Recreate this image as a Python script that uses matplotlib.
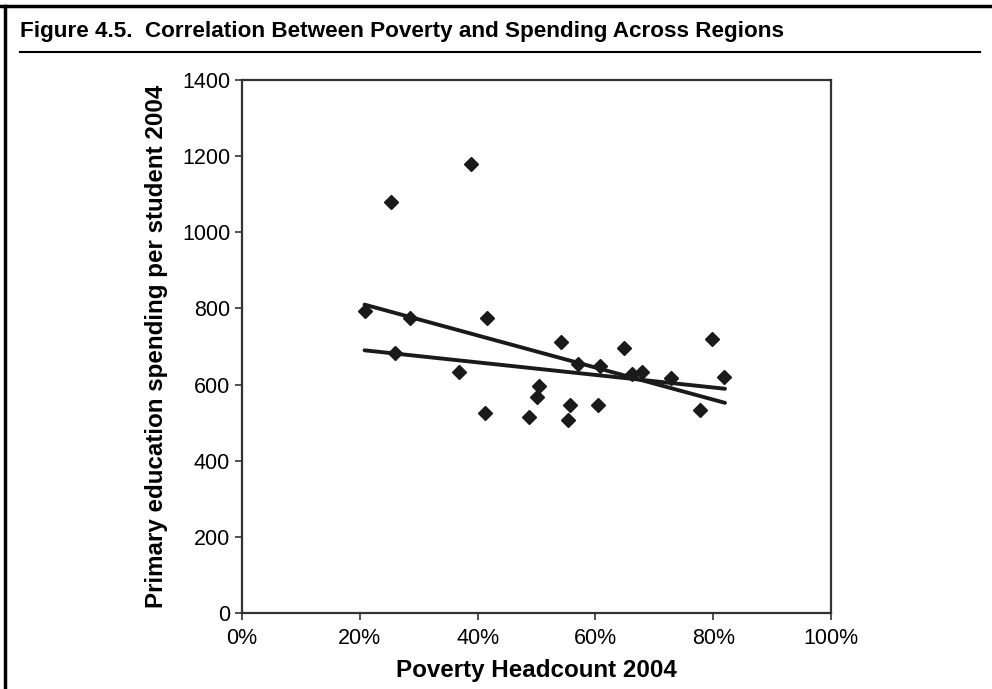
import matplotlib.pyplot as plt
from matplotlib.lines import Line2D
from matplotlib.ticker import PercentFormatter

# poverty headcount (%) and primary spending per student, by region
poverty = [20.8, 25.3, 25.9, 28.6, 36.8, 38.9, 41.2, 41.6, 48.7, 50.1, 50.4, 54.2,
           55.3, 55.6, 57.0, 60.4, 60.7, 64.8, 66.2, 67.9, 72.9, 77.7, 79.8, 81.8]
spending = [794, 1079, 684, 774, 632, 1179, 526, 774, 516, 568, 595, 713,
            506, 547, 653, 547, 648, 695, 629, 632, 617, 532, 721, 621]

# linear trends: all regions, and without the two high-spending outliers
trend_x = [20.8, 82.0]
trend_all = [810, 552]
trend_excl = [690, 589]

plt.rcParams['font.family'] = ['Liberation Sans', 'DejaVu Sans']

fig = plt.figure(figsize=(9.92, 6.89), dpi=100)
ax = fig.add_axes([0.244, 0.1103, 0.5937, 0.7736])

ax.plot(trend_x, trend_all, color='#1a1a1a', lw=2.8, solid_capstyle='round')
ax.plot(trend_x, trend_excl, color='#1a1a1a', lw=2.8, solid_capstyle='round')
ax.plot(poverty, spending, 'D', color='#1a1a1a', ms=7.5, mec='#1a1a1a')

ax.set_xlim(0, 100)
ax.set_ylim(0, 1400)
ax.set_xticks(range(0, 101, 20))
ax.set_yticks(range(0, 1401, 200))
ax.xaxis.set_major_formatter(PercentFormatter(decimals=0))
ax.tick_params(labelsize=15.5, direction='out', length=5, width=1.2, color='#333333')
ax.tick_params(axis='x', pad=6)
for s in ax.spines.values():
    s.set_color('#333333')
    s.set_linewidth(1.6)

ax.set_xlabel("Poverty Headcount 2004", fontsize=17.4, fontweight='bold', labelpad=7)
ax.set_ylabel("Primary education spending per student 2004", fontsize=17.4,
              fontweight='bold', labelpad=10)

# figure caption with rule and frame
fig.text(20 / 992, 1 - 31 / 689, "Figure 4.5.  Correlation Between Poverty and Spending Across Regions",
         fontsize=16.2, fontweight='bold', va='center', ha='left')
fig.add_artist(Line2D([20 / 992, 980 / 992], [1 - 52 / 689, 1 - 52 / 689], color='black', lw=1.5))
fig.add_artist(Line2D([0, 1], [1 - 6 / 689, 1 - 6 / 689], color='black', lw=2.5))
fig.add_artist(Line2D([5 / 992, 5 / 992], [0, 1 - 6 / 689], color='black', lw=2.5))

fig.savefig("out.png", dpi=100)
plt.close()
